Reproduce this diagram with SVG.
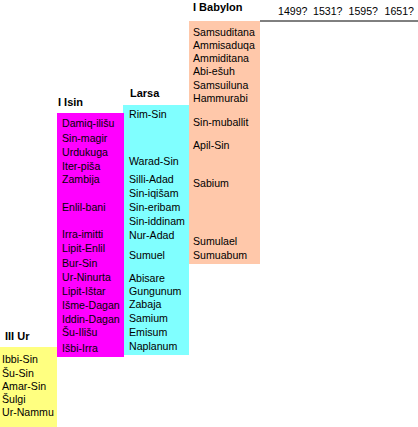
<svg xmlns="http://www.w3.org/2000/svg" width="418" height="427" viewBox="0 0 418 427">
<style>
text{font-family:"Liberation Sans",Arial,sans-serif;font-size:10.6px;fill:#000}
.h{font-weight:bold;font-size:11px}
</style>
<rect width="418" height="427" fill="#fff"/>
<g id="babylon">
<rect x="189" y="21" width="71" height="243" fill="#FFC8AA"/>
<text class="h" x="193" y="11">I Babylon</text>
<text x="193" y="36">Samsuditana</text>
<text x="193" y="49">Ammisaduqa</text>
<text x="193" y="62">Ammiditana</text>
<text x="193" y="75">Abi-ešuh</text>
<text x="193" y="89">Samsuiluna</text>
<text x="193" y="102">Hammurabi</text>
<text x="193" y="126">Sin-muballit</text>
<text x="193" y="149">Apil-Sin</text>
<text x="193" y="187">Sabium</text>
<text x="193" y="245">Sumulael</text>
<text x="193" y="259">Sumuabum</text>
</g>
<g id="larsa">
<rect x="123" y="105" width="66" height="250" fill="#80FFFF"/>
<text class="h" x="130" y="97">Larsa</text>
<text x="129" y="118">Rim-Sin</text>
<text x="129" y="165">Warad-Sin</text>
<text x="129" y="183">Silli-Adad</text>
<text x="129" y="197">Sin-iqišam</text>
<text x="129" y="211">Sin-eribam</text>
<text x="129" y="225">Sin-iddinam</text>
<text x="129" y="239">Nur-Adad</text>
<text x="129" y="259">Sumuel</text>
<text x="129" y="282">Abisare</text>
<text x="129" y="295">Gungunum</text>
<text x="129" y="308">Zabaja</text>
<text x="129" y="322">Samium</text>
<text x="129" y="336">Emisum</text>
<text x="129" y="350">Naplanum</text>
</g>
<g id="isin">
<rect x="57" y="113" width="67" height="244" fill="#FF00FF"/>
<text class="h" x="58" y="106">I Isin</text>
<text x="62" y="127">Damiq-ilišu</text>
<text x="62" y="142">Sin-magir</text>
<text x="62" y="156">Urdukuga</text>
<text x="62" y="170">Iter-piša</text>
<text x="62" y="183">Zambija</text>
<text x="62" y="211">Enlil-bani</text>
<text x="62" y="238">Irra-imitti</text>
<text x="62" y="252">Lipit-Enlil</text>
<text x="62" y="267">Bur-Sin</text>
<text x="62" y="281">Ur-Ninurta</text>
<text x="62" y="295">Lipit-Ištar</text>
<text x="62" y="309">Išme-Dagan</text>
<text x="62" y="323">Iddin-Dagan</text>
<text x="62" y="336">Šu-Ilišu</text>
<text x="62" y="352">Išbi-Irra</text>
</g>
<g id="ur">
<rect x="0" y="347" width="57" height="80" fill="#FFFF80"/>
<text class="h" x="5" y="340">III Ur</text>
<text x="2" y="363">Ibbi-Sin</text>
<text x="2" y="377">Šu-Sin</text>
<text x="2" y="390">Amar-Sin</text>
<text x="2" y="403">Šulgi</text>
<text x="2" y="416">Ur-Nammu</text>
</g>
<g id="connectors">
<line x1="260" y1="21" x2="418" y2="21" stroke="#000" stroke-width="1"/>
</g>
<g id="dates">
<text x="278" y="15">1499?</text>
<text x="313" y="15">1531?</text>
<text x="348.5" y="15">1595?</text>
<text x="384.5" y="15">1651?</text>
</g>
</svg>
